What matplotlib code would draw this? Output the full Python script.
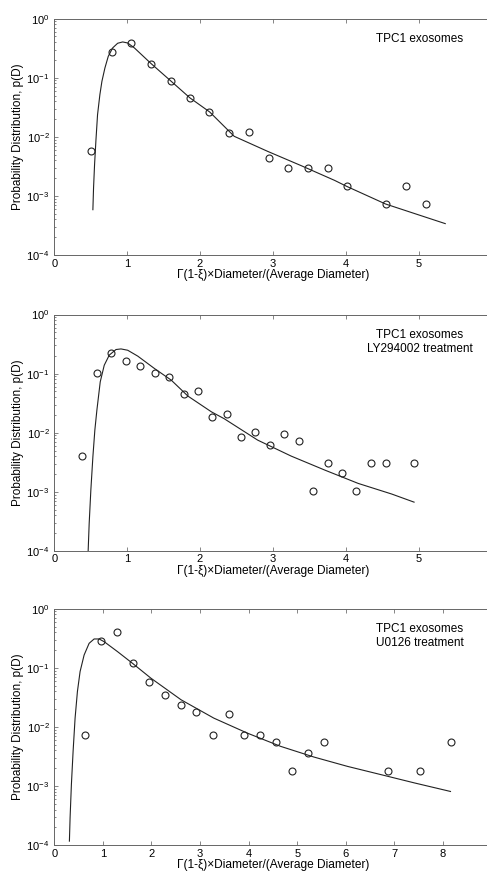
import numpy as np
import matplotlib
matplotlib.use('Agg')
import matplotlib.pyplot as plt

plt.rcParams['font.family'] = ['Liberation Sans', 'DejaVu Sans']
plt.rcParams['mathtext.fontset'] = 'custom'
plt.rcParams['mathtext.rm'] = 'Liberation Sans'

# panel 1: TPC1 exosomes
x1 = [0.506, 0.795, 1.057, 1.324, 1.595, 1.862, 2.129, 2.40, 2.671, 2.943,
      3.214, 3.48, 3.752, 4.018, 4.556, 4.823, 5.099]
p1 = [0.00583, 0.273, 0.383, 0.171, 0.0893, 0.0449, 0.0263, 0.0118, 0.0119, 0.00444,
      0.00293, 0.00293, 0.00293, 0.00147, 0.00073, 0.00147, 0.00073]
fx1 = [0.529, 0.538, 0.552, 0.570, 0.593, 0.625, 0.653, 0.694, 0.740, 0.80, 0.869,
       0.938, 1.007, 1.099, 1.329, 1.595, 1.862, 2.133, 2.469, 2.929, 3.389, 3.848,
       4.014, 4.547, 4.952, 5.366]
fp1 = [5.85e-4, 1.36e-3, 3.38e-3, 8.4e-3, 0.0237, 0.0517, 0.0869, 0.146, 0.230, 0.319, 0.383,
       0.403, 0.387, 0.319, 0.173, 0.089, 0.0455, 0.0263, 0.0102, 0.00567, 0.00325, 0.00183,
       0.00145, 0.00073, 0.0005, 0.00034]

# panel 2: LY294002 treatment
x2 = [0.382, 0.584, 0.782, 0.979, 1.177, 1.375, 1.577, 1.775, 1.972, 2.170, 2.368,
      2.561, 2.759, 2.961, 3.159, 3.356, 3.554, 3.756, 3.949, 4.147, 4.349, 4.547, 4.943]
p2 = [0.00408, 0.102, 0.228, 0.163, 0.136, 0.1007, 0.0884, 0.0445, 0.0506, 0.0184, 0.0210,
      0.00834, 0.0104, 0.0062, 0.00937, 0.00714, 0.00102, 0.00311, 0.00208, 0.00102,
      0.00311, 0.00311, 0.00311]
fx2 = [0.464, 0.478, 0.501, 0.529, 0.556, 0.584, 0.630, 0.685, 0.754, 0.846, 0.915, 1.007,
       1.145, 1.375, 1.605, 1.834, 2.156, 2.331, 2.791, 3.251, 3.711, 4.171, 4.63, 4.938]
fp2 = [1e-4, 2.9e-4, 1.07e-3, 3.93e-3, 0.0111, 0.0242, 0.0728, 0.139, 0.206, 0.256, 0.262, 0.249,
       0.198, 0.122, 0.0776, 0.0417, 0.0226, 0.0173, 0.00751, 0.00403, 0.00234, 0.00139,
       0.00092, 0.00067]

# panel 3: U0126 treatment
x3 = [0.640, 0.957, 1.294, 1.618, 1.941, 2.272, 2.602, 2.926, 3.263, 3.587, 3.910,
      4.241, 4.565, 4.895, 5.219, 5.549, 6.864, 7.525, 8.172]
p3 = [0.00719, 0.281, 0.404, 0.121, 0.0571, 0.0345, 0.0237, 0.0180, 0.00719, 0.0165, 0.00719,
      0.00719, 0.00547, 0.0018, 0.00367, 0.00547, 0.0018, 0.0018, 0.00547]
fx3 = [0.310, 0.324, 0.351, 0.386, 0.427, 0.475, 0.530, 0.613, 0.716, 0.819, 0.922, 1.026,
       1.301, 1.611, 1.990, 2.610, 3.284, 3.973, 4.661, 5.349, 6.038, 6.726, 7.414, 8.157]
fp3 = [1.17e-4, 2.9e-4, 1.06e-3, 3.86e-3, 0.0141, 0.0397, 0.0865, 0.165, 0.260, 0.308, 0.308,
       0.277, 0.188, 0.119, 0.0667, 0.0288, 0.0141, 0.00787, 0.00469, 0.00309, 0.00215,
       0.00156, 0.00113, 0.00081]

labels = ['TPC1 exosomes', 'TPC1 exosomes\nLY294002 treatment', 'TPC1 exosomes\nU0126 treatment']
xmaxs = [6, 6, 9]
xtks = [range(0, 6), range(0, 6), range(0, 9)]

fig = plt.figure(figsize=(4.87, 8.74), dpi=100)
bottoms = [0.7082, 0.3696, 0.0330]
panels = [(x1, p1, fx1, fp1), (x2, p2, fx2, fp2), (x3, p3, fx3, fp3)]

for i in range(3):
    # right edge of the frame lies just outside the picture
    ax = fig.add_axes([0.1116, bottoms[i], 0.8975, 0.2705])
    xs, ps, fx, fp = panels[i]
    ax.plot(fx, fp, '-', color='#222222', lw=0.8)
    ax.plot(xs, ps, 'o', mfc='none', mec='#222222', ms=5, mew=0.8)
    ax.set_yscale('log')
    ax.set_ylim(1e-4, 1)
    ax.set_xlim(0, xmaxs[i])
    ax.set_xticks(list(xtks[i]))
    ax.tick_params(which='both', direction='in', top=True, right=True, labelsize=8, width=0.5, color='#555555')
    ax.tick_params(which='major', length=3)
    ax.tick_params(which='minor', length=1.5)
    ax.tick_params(axis='x', pad=2.5)
    for s in ax.spines.values():
        s.set_linewidth(0.7)
        s.set_color('#666666')
    ax.set_xlabel('Γ(1-ξ)×Diameter/(Average Diameter)', fontsize=8.6, labelpad=0.5)
    ax.set_ylabel('Probability Distribution, p(D)', fontsize=8.5, labelpad=2)
    ax.text(0.836, 0.94, labels[i], transform=ax.transAxes, ha='center', va='top', fontsize=8.5, linespacing=1.2)

fig.savefig('out.png', dpi=100)
